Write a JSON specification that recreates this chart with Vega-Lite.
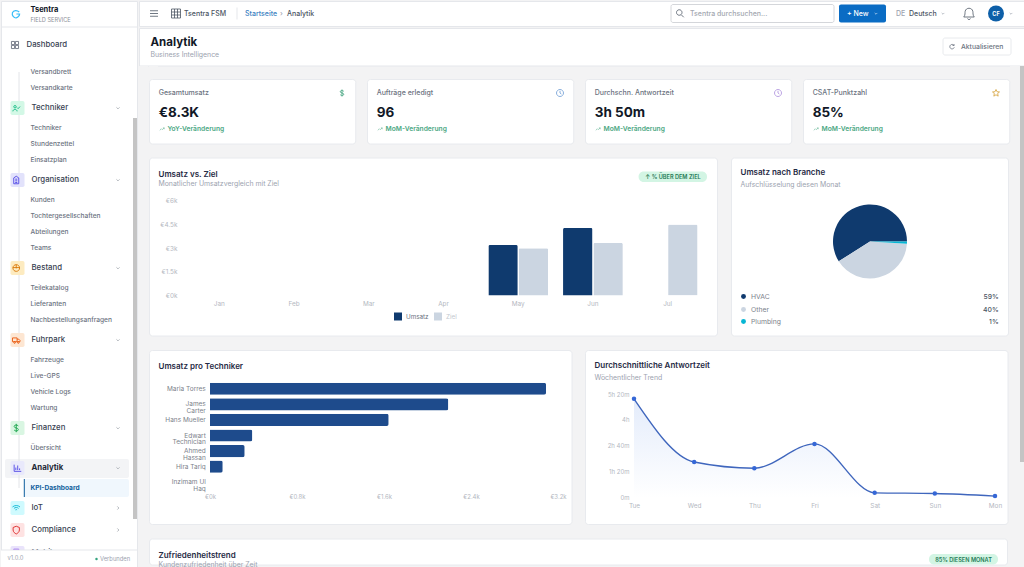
{
  "$schema": "https://vega.github.io/schema/vega-lite/v6.json",
  "background": "#f3f3f4",
  "padding": 0,
  "spacing": 0,
  "config": {
    "font": "Inter",
    "view": {"fill": "#ffffff", "stroke": "#e8eaee", "cornerRadius": 3},
    "text": {"baseline": "middle"},
    "axis": {"grid": false, "domain": false, "ticks": false, "tickSize": 0, "title": null, "labelColor": "#b4b8bf", "labelFontSize": 6.4, "labelAngle": 0, "labelFlush": false},
    "title": {"anchor": "start", "frame": "group", "dx": 9.5, "offset": -30, "fontSize": 8, "fontWeight": 600, "color": "#1f2a44", "subtitleFontSize": 6.9, "subtitleColor": "#9ca3af", "subtitlePadding": 3}
  },
  "resolve": {"scale": {"color": "independent", "shape": "independent", "size": "independent"}},
  "hconcat": [
    {
      "width": 136,
      "height": 566,
      "view": {"cornerRadius": 0, "stroke": "#e5e7eb"},
      "resolve": {"scale": {"x": "independent", "y": "independent", "color": "independent", "shape": "independent"}},
      "layer": [
        {
          "data": {"values": [{"part": "open row"}]},
          "mark": {"type": "rect", "color": "#f3f4f6", "cornerRadius": 2},
          "encoding": {
            "x": {"datum": 1, "type": "quantitative", "scale": {"domain": [1, 2], "range": [4, 128]}, "axis": null}, "x2": {"datum": 2},
            "y": {"datum": 1, "type": "quantitative", "scale": {"domain": [1, 2], "range": [458, 477]}, "axis": null}, "y2": {"datum": 2}
          }
        },
        {
          "data": {"values": [{"part": "active row"}]},
          "mark": {"type": "rect", "color": "#f0f7fd", "cornerRadius": 2},
          "encoding": {
            "x": {"datum": 1, "type": "quantitative", "scale": {"domain": [1, 2], "range": [23, 128]}, "axis": null}, "x2": {"datum": 2},
            "y": {"datum": 1, "type": "quantitative", "scale": {"domain": [1, 2], "range": [478, 496]}, "axis": null}, "y2": {"datum": 2}
          }
        },
        {
          "data": {"values": [
            {"label": "Dashboard", "kind": "top"},
            {"label": "Versandbrett", "kind": "sub"},
            {"label": "Versandkarte", "kind": "sub"},
            {"label": "Techniker", "kind": "group", "chev": "down"},
            {"label": "Techniker", "kind": "sub"},
            {"label": "Stundenzettel", "kind": "sub"},
            {"label": "Einsatzplan", "kind": "sub"},
            {"label": "Organisation", "kind": "group", "chev": "down"},
            {"label": "Kunden", "kind": "sub"},
            {"label": "Tochtergesellschaften", "kind": "sub"},
            {"label": "Abteilungen", "kind": "sub"},
            {"label": "Teams", "kind": "sub"},
            {"label": "Bestand", "kind": "group", "chev": "down"},
            {"label": "Teilekatalog", "kind": "sub"},
            {"label": "Lieferanten", "kind": "sub"},
            {"label": "Nachbestellungsanfragen", "kind": "sub"},
            {"label": "Fuhrpark", "kind": "group", "chev": "down"},
            {"label": "Fahrzeuge", "kind": "sub"},
            {"label": "Live-GPS", "kind": "sub"},
            {"label": "Vehicle Logs", "kind": "sub"},
            {"label": "Wartung", "kind": "sub"},
            {"label": "Finanzen", "kind": "group", "chev": "down"},
            {"label": "Übersicht", "kind": "sub"},
            {"label": "Analytik", "kind": "open", "chev": "down"},
            {"label": "KPI-Dashboard", "kind": "active"},
            {"label": "IoT", "kind": "group", "chev": "right"},
            {"label": "Compliance", "kind": "group", "chev": "right"},
            {"label": "Mobile", "kind": "group"}
          ]},
          "transform": [{"window": [{"op": "row_number", "as": "row"}]}],
          "encoding": {
            "y": {"field": "row", "type": "quantitative", "axis": null, "scale": {
              "domain": [1,2,3,4,5,6,7,8,9,10,11,12,13,14,15,16,17,18,19,20,21,22,23,24,25,26,27,28],
              "range": [44,71,87,107,127,143,159,179,199,215,231,247,267,287,303,319,339,359,375,391,407,427,447,467,487,507,529,552]
            }}
          },
          "resolve": {"scale": {"x": "independent", "y": "independent", "color": "independent", "shape": "independent"}},
          "layer": [
            {
              "transform": [{"filter": "datum.label == 'Versandbrett' || datum.label == 'KPI-Dashboard'"}],
              "mark": {"type": "line", "color": "#e2e4e8", "strokeWidth": 1},
              "encoding": {"x": {"datum": 0, "type": "quantitative", "scale": {"domain": [0, 1], "range": [18, 19]}, "axis": null}}
            },
            {
              "transform": [{"filter": "datum.kind == 'group' || datum.kind == 'open'"}],
              "mark": {"type": "point", "filled": true, "opacity": 1, "size": 196, "shape": "M-.75,-1H.75Q1,-1 1,-.75V.75Q1,1 .75,1H-.75Q-1,1 -1,.75V-.75Q-1,-1 -.75,-1Z"},
              "encoding": {
                "x": {"datum": 0, "type": "quantitative", "scale": {"domain": [0, 1], "range": [16.5, 17.5]}, "axis": null},
                "color": {"field": "label", "type": "nominal", "legend": null, "scale": {
                  "domain": ["Techniker", "Organisation", "Bestand", "Fuhrpark", "Finanzen", "Analytik", "IoT", "Compliance", "Mobile"],
                  "range": ["#d3f8e6", "#e2e2fb", "#fdebc0", "#fde6d2", "#d9f6e2", "#e9e9fb", "#cffafe", "#fee2e2", "#e9e3fb"]
                }}
              }
            },
            {
              "transform": [{"filter": "datum.kind == 'group' || datum.kind == 'open' || datum.kind == 'top'"}],
              "mark": {"type": "point", "filled": false, "opacity": 1, "size": 70, "strokeWidth": 0.9},
              "encoding": {
                "x": {"field": "kind", "type": "nominal", "axis": null, "scale": {"type": "point", "domain": ["top", "group", "open"], "range": [14, 16.5], "padding": 0}},
                "shape": {"field": "label", "type": "nominal", "legend": null, "scale": {
                  "domain": ["Dashboard", "Techniker", "Organisation", "Bestand", "Fuhrpark", "Finanzen", "Analytik", "IoT", "Compliance", "Mobile"],
                  "range": [
                    "M-.85,-.85H-.1V-.1H-.85ZM.1,-.85H.85V-.1H.1ZM-.85,.1H-.1V.85H-.85ZM.1,.1H.85V.85H.1Z",
                    "M-.6,-.3a.3,.3 0 1,0 .6,0a.3,.3 0 1,0 -.6,0M-.8,.8C-.8,.2 .2,.2 .2,.8M.2,-.1L.45,.15L.9,-.35",
                    "M-.6,.9V-.5L0,-.9L.6,-.5V.9ZM-.25,-.2H.25M-.25,.2H.25M-.25,.6H.25",
                    "M-.8,0a.8,.8 0 1,0 1.6,0a.8,.8 0 1,0 -1.6,0M-.8,-.1H.8M0,-.8V.1",
                    "M-.9,-.5H.2V.4H-.9ZM.2,-.2H.6L.9,.1V.4H.2M-.6,.6a.2,.2 0 1,0 .4,0a.2,.2 0 1,0 -.4,0M.3,.6a.2,.2 0 1,0 .4,0a.2,.2 0 1,0 -.4,0",
                    "M.5,-.5C.2,-.8 -.5,-.8 -.5,-.35C-.5,.1 .5,-.1 .5,.35C.5,.8 -.2,.8 -.5,.5M0,-1V1",
                    "M-.8,-.8V.8H.9M-.4,.5V-.1M.05,.5V-.6M.5,.5V.1",
                    "M-.9,-.25C-.4,-.7 .4,-.7 .9,-.25M-.55,.1C-.25,-.2 .25,-.2 .55,.1M-.2,.45C-.1,.35 .1,.35 .2,.45",
                    "M0,-.9L.75,-.6V0C.75,.5 .3,.8 0,.95C-.3,.8 -.75,.5 -.75,0V-.6Z",
                    "M-.6,-.9H.6V.9H-.6Z"
                  ]
                }},
                "color": {"field": "label", "type": "nominal", "legend": null, "scale": {
                  "domain": ["Dashboard", "Techniker", "Organisation", "Bestand", "Fuhrpark", "Finanzen", "Analytik", "IoT", "Compliance", "Mobile"],
                  "range": ["#6b7280", "#10b981", "#4f46e5", "#d97706", "#ea580c", "#16a34a", "#4f46e5", "#06b6d4", "#dc2626", "#7c3aed"]
                }}
              }
            },
            {
              "transform": [{"filter": "datum.kind == 'top'"}],
              "mark": {"type": "text", "align": "left", "fontSize": 7.8, "fontWeight": 500, "color": "#374151"},
              "encoding": {"text": {"field": "label"}, "x": {"datum": 0, "type": "quantitative", "scale": {"domain": [0, 1], "range": [25.5, 26.5]}, "axis": null}}
            },
            {
              "transform": [{"filter": "datum.kind == 'group'"}],
              "mark": {"type": "text", "align": "left", "fontSize": 7.8, "fontWeight": 500, "color": "#374151"},
              "encoding": {"text": {"field": "label"}, "x": {"datum": 0, "type": "quantitative", "scale": {"domain": [0, 1], "range": [30.5, 31.5]}, "axis": null}}
            },
            {
              "transform": [{"filter": "datum.kind == 'open'"}],
              "mark": {"type": "text", "align": "left", "fontSize": 7.8, "fontWeight": 700, "color": "#1f2937"},
              "encoding": {"text": {"field": "label"}, "x": {"datum": 0, "type": "quantitative", "scale": {"domain": [0, 1], "range": [30.5, 31.5]}, "axis": null}}
            },
            {
              "transform": [{"filter": "datum.kind == 'sub'"}],
              "mark": {"type": "text", "align": "left", "fontSize": 6.6, "fontWeight": 500, "color": "#6b7280"},
              "encoding": {"text": {"field": "label"}, "x": {"datum": 0, "type": "quantitative", "scale": {"domain": [0, 1], "range": [29.5, 30.5]}, "axis": null}}
            },
            {
              "transform": [{"filter": "datum.kind == 'active'"}],
              "mark": {"type": "text", "align": "left", "fontSize": 6.6, "fontWeight": 700, "color": "#0f5e9c"},
              "encoding": {"text": {"field": "label"}, "x": {"datum": 0, "type": "quantitative", "scale": {"domain": [0, 1], "range": [29.5, 30.5]}, "axis": null}}
            },
            {
              "transform": [{"filter": "datum.chev"}],
              "mark": {"type": "point", "filled": false, "opacity": 1, "size": 20, "strokeWidth": 0.8, "color": "#a3a8b0"},
              "encoding": {
                "x": {"datum": 0, "type": "quantitative", "scale": {"domain": [0, 1], "range": [117, 118]}, "axis": null},
                "shape": {"field": "chev", "type": "nominal", "legend": null, "scale": {"domain": ["down", "right"], "range": ["M-.7,-.3L0,.4L.7,-.3", "M-.3,-.7L.4,0L-.3,.7"]}}
              }
            }
          ]
        },
        {
          "data": {"values": [{"part": "active accent"}]},
          "mark": {"type": "rect", "color": "#0f5e9c"},
          "encoding": {
            "x": {"datum": 1, "type": "quantitative", "scale": {"domain": [1, 2], "range": [22.8, 23.8]}, "axis": null}, "x2": {"datum": 2},
            "y": {"datum": 1, "type": "quantitative", "scale": {"domain": [1, 2], "range": [478, 496]}, "axis": null}, "y2": {"datum": 2}
          }
        },
        {
          "data": {"values": [{"part": "footer"}]},
          "mark": {"type": "rect", "color": "#ffffff"},
          "encoding": {
            "x": {"datum": 1, "type": "quantitative", "scale": {"domain": [1, 2], "range": [0, 136]}, "axis": null}, "x2": {"datum": 2},
            "y": {"datum": 1, "type": "quantitative", "scale": {"domain": [1, 2], "range": [549, 566]}, "axis": null}, "y2": {"datum": 2}
          }
        },
        {
          "data": {"values": [{"part": "header line"}, {"part": "footer line"}]},
          "mark": {"type": "rule", "color": "#e5e7eb", "strokeWidth": 1},
          "encoding": {
            "x": {"datum": 1, "type": "quantitative", "scale": {"domain": [1, 2], "range": [0, 136]}, "axis": null}, "x2": {"datum": 2},
            "y": {"field": "part", "type": "nominal", "axis": null, "scale": {"type": "point", "domain": ["header line", "footer line"], "range": [26, 549], "padding": 0}}
          }
        },
        {
          "data": {"values": [{"part": "scrollbar"}]},
          "mark": {"type": "rect", "color": "#c4c4c4"},
          "encoding": {
            "x": {"datum": 1, "type": "quantitative", "scale": {"domain": [1, 2], "range": [132, 136]}, "axis": null}, "x2": {"datum": 2},
            "y": {"datum": 1, "type": "quantitative", "scale": {"domain": [1, 2], "range": [117, 518]}, "axis": null}, "y2": {"datum": 2}
          }
        },
        {
          "data": {"values": [{"t": "Tsentra"}]},
          "mark": {"type": "text", "align": "left", "fontSize": 7.5, "fontWeight": 700, "color": "#111827"},
          "encoding": {
            "text": {"field": "t"},
            "x": {"datum": 0, "type": "quantitative", "scale": {"domain": [0, 1], "range": [29.5, 30.5]}, "axis": null},
            "y": {"datum": 0, "type": "quantitative", "scale": {"domain": [0, 1], "range": [9, 10]}, "axis": null}
          }
        },
        {
          "data": {"values": [{"t": "FIELD SERVICE"}]},
          "mark": {"type": "text", "align": "left", "fontSize": 5.6, "color": "#8b9098", "letterSpacing": 0.6},
          "encoding": {
            "text": {"field": "t"},
            "x": {"datum": 0, "type": "quantitative", "scale": {"domain": [0, 1], "range": [29.5, 30.5]}, "axis": null},
            "y": {"datum": 0, "type": "quantitative", "scale": {"domain": [0, 1], "range": [18.5, 19.5]}, "axis": null}
          }
        },
        {
          "data": {"values": [{"t": "logo"}]},
          "mark": {"type": "point", "filled": false, "opacity": 1, "size": 64, "strokeWidth": 1.2, "color": "#38bdf8", "shape": "M.8,-.5C.3,-1 -.6,-1 -.9,-.3C-1.1,.4 -.5,1 0,1C.5,.8 .9,.3 .9,0H.1"},
          "encoding": {
            "x": {"datum": 0, "type": "quantitative", "scale": {"domain": [0, 1], "range": [15, 16]}, "axis": null},
            "y": {"datum": 0, "type": "quantitative", "scale": {"domain": [0, 1], "range": [13, 14]}, "axis": null}
          }
        },
        {
          "data": {"values": [{"t": "v1.0.0"}]},
          "mark": {"type": "text", "align": "left", "fontSize": 5.8, "color": "#9ca3af"},
          "encoding": {
            "text": {"field": "t"},
            "x": {"datum": 0, "type": "quantitative", "scale": {"domain": [0, 1], "range": [6.5, 7.5]}, "axis": null},
            "y": {"datum": 0, "type": "quantitative", "scale": {"domain": [0, 1], "range": [557, 558]}, "axis": null}
          }
        },
        {
          "data": {"values": [{"t": "Verbunden"}]},
          "mark": {"type": "text", "align": "left", "fontSize": 5.8, "color": "#9ca3af"},
          "encoding": {
            "text": {"field": "t"},
            "x": {"datum": 0, "type": "quantitative", "scale": {"domain": [0, 1], "range": [99, 100]}, "axis": null},
            "y": {"datum": 0, "type": "quantitative", "scale": {"domain": [0, 1], "range": [557.5, 558.5]}, "axis": null}
          }
        },
        {
          "data": {"values": [{"t": "connected"}]},
          "mark": {"type": "point", "filled": true, "opacity": 1, "size": 6, "color": "#34a37f"},
          "encoding": {
            "x": {"datum": 0, "type": "quantitative", "scale": {"domain": [0, 1], "range": [95.5, 96.5]}, "axis": null},
            "y": {"datum": 0, "type": "quantitative", "scale": {"domain": [0, 1], "range": [558, 559]}, "axis": null}
          }
        }
      ]
    },
    {
      "spacing": 0,
      "resolve": {"scale": {"color": "independent", "shape": "independent", "size": "independent"}},
      "vconcat": [
        {
          "width": 886,
          "height": 25,
          "view": {"cornerRadius": 0, "stroke": "#e5e7eb"},
          "resolve": {"scale": {"x": "independent", "y": "independent", "color": "independent", "shape": "independent"}},
          "layer": [
            {
              "data": {"values": [{"part": "search"}]},
              "mark": {"type": "rect", "fill": "#ffffff", "stroke": "#c9ccd1", "strokeWidth": 0.8, "cornerRadius": 2},
              "encoding": {
                "x": {"datum": 1, "type": "quantitative", "scale": {"domain": [1, 2], "range": [532, 695]}, "axis": null}, "x2": {"datum": 2},
                "y": {"datum": 1, "type": "quantitative", "scale": {"domain": [1, 2], "range": [3.5, 21.5]}, "axis": null}, "y2": {"datum": 2}
              }
            },
            {
              "data": {"values": [{"part": "new"}]},
              "mark": {"type": "rect", "color": "#0a6cc4", "cornerRadius": 2},
              "encoding": {
                "x": {"datum": 1, "type": "quantitative", "scale": {"domain": [1, 2], "range": [700, 747]}, "axis": null}, "x2": {"datum": 2},
                "y": {"datum": 1, "type": "quantitative", "scale": {"domain": [1, 2], "range": [3.5, 21.5]}, "axis": null}, "y2": {"datum": 2}
              }
            },
            {
              "data": {"values": [{"part": "divider"}]},
              "mark": {"type": "rule", "color": "#e5e7eb"},
              "encoding": {
                "x": {"datum": 0, "type": "quantitative", "scale": {"domain": [0, 1], "range": [98, 99]}, "axis": null},
                "y": {"datum": 1, "type": "quantitative", "scale": {"domain": [1, 2], "range": [6.5, 18.5]}, "axis": null}, "y2": {"datum": 2}
              }
            },
            {
              "data": {"values": [{"part": "avatar"}]},
              "mark": {"type": "point", "shape": "circle", "filled": true, "opacity": 1, "size": 256, "color": "#0d5fa8"},
              "encoding": {
                "x": {"datum": 0, "type": "quantitative", "scale": {"domain": [0, 1], "range": [857, 858]}, "axis": null}
              }
            },
            {
              "data": {"values": [{"t": "CF"}]},
              "mark": {"type": "text", "fontSize": 5.5, "fontWeight": 700, "color": "#ffffff"},
              "encoding": {
                "text": {"field": "t"},
                "x": {"datum": 0, "type": "quantitative", "scale": {"domain": [0, 1], "range": [857, 858]}, "axis": null}
              }
            },
            {
              "data": {"values": [{"icon": "menu"}, {"icon": "grid"}, {"icon": "search"}, {"icon": "bell"}]},
              "transform": [{"window": [{"op": "row_number", "as": "row"}]}],
              "mark": {"type": "point", "filled": false, "opacity": 1, "strokeWidth": 0.8, "size": 100, "color": "#4b5563"},
              "encoding": {
                "x": {"field": "row", "type": "quantitative", "axis": null, "scale": {"domain": [1, 2, 3, 4], "range": [15, 37, 541, 830]}},
                "shape": {"field": "icon", "type": "nominal", "legend": null, "scale": {"domain": ["menu", "grid", "search", "bell"], "range": [
                  "M-.8,-.55H.8M-.8,0H.8M-.8,.55H.8",
                  "M-.9,-.9H.9V.9H-.9ZM-.9,-.3H.9M-.9,.3H.9M-.3,-.9V.9M.3,-.9V.9",
                  "M-.7,-.2a.55,.55 0 1,0 1.1,0a.55,.55 0 1,0 -1.1,0M.25,.25L.75,.75",
                  "M-1.05,.7C-.7,.28 -.84,-.14 -.77,-.42C-.63,-1.26 .63,-1.26 .77,-.42C.84,-.14 .7,.28 1.05,.7ZM-.28,.98C-.14,1.33 .14,1.33 .28,.98"
                ]}}
              }
            },
            {
              "data": {"values": [{"at": "new"}, {"at": "language"}, {"at": "profile"}]},
              "transform": [{"window": [{"op": "row_number", "as": "row"}]}],
              "mark": {"type": "point", "filled": false, "opacity": 1, "size": 14, "strokeWidth": 0.7, "shape": "M-.7,-.3L0,.4L.7,-.3"},
              "encoding": {
                "x": {"field": "row", "type": "quantitative", "axis": null, "scale": {"domain": [1, 2, 3], "range": [737, 804, 872]}},
                "color": {"field": "at", "type": "nominal", "legend": null, "scale": {"domain": ["new", "language", "profile"], "range": ["#cfe3f7", "#9ca3af", "#9ca3af"]}}
              }
            },
            {
              "data": {"values": [
                {"t": "Tsentra FSM", "kind": "plain"},
                {"t": "Startseite", "kind": "link"},
                {"t": "›", "kind": "muted"},
                {"t": "Analytik", "kind": "plain"},
                {"t": "Tsentra durchsuchen...", "kind": "placeholder"},
                {"t": "+ New", "kind": "white"},
                {"t": "DE", "kind": "muted"},
                {"t": "Deutsch", "kind": "strong"}
              ]},
              "transform": [{"window": [{"op": "row_number", "as": "row"}]}],
              "mark": {"type": "text", "align": "left", "fontSize": 7, "fontWeight": 500},
              "encoding": {
                "text": {"field": "t"},
                "x": {"field": "row", "type": "quantitative", "axis": null, "scale": {"domain": [1, 2, 3, 4, 5, 6, 7, 8], "range": [45, 106, 141, 148, 551, 708, 757, 770]}},
                "color": {"field": "kind", "type": "nominal", "legend": null, "scale": {"domain": ["plain", "link", "muted", "placeholder", "white", "strong"], "range": ["#4b5563", "#3a7fc1", "#9ca3af", "#a3a8b0", "#ffffff", "#4b5563"]}}
              }
            }
          ]
        },
        {
          "width": 886,
          "height": 37.5,
          "view": {"cornerRadius": 0, "stroke": "#e5e7eb"},
          "title": {"text": "Analytik", "subtitle": "Business Intelligence", "fontSize": 11.5, "fontWeight": 700, "color": "#111827", "dx": 11.5, "offset": -29.5, "subtitlePadding": 3},
          "resolve": {"scale": {"x": "independent", "y": "independent"}},
          "layer": [
            {
              "data": {"values": [{"part": "button"}]},
              "mark": {"type": "rect", "fill": "#ffffff", "stroke": "#e2e4e8", "strokeWidth": 0.8, "cornerRadius": 2},
              "encoding": {
                "x": {"datum": 1, "type": "quantitative", "scale": {"domain": [1, 2], "range": [804, 872]}, "axis": null}, "x2": {"datum": 2},
                "y": {"datum": 1, "type": "quantitative", "scale": {"domain": [1, 2], "range": [10, 27]}, "axis": null}, "y2": {"datum": 2}
              }
            },
            {
              "data": {"values": [{"part": "refresh"}]},
              "mark": {"type": "point", "filled": false, "opacity": 1, "size": 25, "strokeWidth": 0.8, "color": "#6b7280", "shape": "M.8,-.4A.9,.9 0 1,0 .9,.3M.8,-1V-.4H.2"},
              "encoding": {
                "x": {"datum": 0, "type": "quantitative", "scale": {"domain": [0, 1], "range": [813, 814]}, "axis": null},
                "y": {"datum": 0, "type": "quantitative", "scale": {"domain": [0, 1], "range": [18.5, 19.5]}, "axis": null}
              }
            },
            {
              "data": {"values": [{"t": "Aktualisieren"}]},
              "mark": {"type": "text", "align": "left", "fontSize": 6.8, "fontWeight": 500, "color": "#6b7280"},
              "encoding": {
                "text": {"field": "t"},
                "x": {"datum": 0, "type": "quantitative", "scale": {"domain": [0, 1], "range": [822, 823]}, "axis": null},
                "y": {"datum": 0, "type": "quantitative", "scale": {"domain": [0, 1], "range": [18.5, 19.5]}, "axis": null}
              }
            }
          ]
        },
        {
          "spacing": 0,
          "resolve": {"scale": {"color": "independent", "shape": "independent"}},
          "hconcat": [
            {"data": {"values": []}, "mark": "rect", "width": 9, "height": 12, "view": {"fill": "#f3f3f4", "stroke": null, "cornerRadius": 0}},
            {
              "spacing": 12.5,
              "resolve": {"scale": {"color": "independent", "shape": "independent"}},
              "vconcat": [
                {
                  "spacing": 0,
                  "resolve": {"scale": {"color": "independent", "shape": "independent"}},
                  "vconcat": [
                    {"data": {"values": []}, "mark": "rect", "width": 9, "height": 12, "view": {"fill": "#f3f3f4", "stroke": null, "cornerRadius": 0}},
                    {
                      "data": {"values": [
                        {"role": "label", "revenue": "Gesamtumsatz", "jobs": "Aufträge erledigt", "response": "Durchschn. Antwortzeit", "csat": "CSAT-Punktzahl"},
                        {"role": "value", "revenue": "€8.3K", "jobs": "96", "response": "3h 50m", "csat": "85%"},
                        {"role": "delta", "revenue": "YoY-Veränderung", "jobs": "MoM-Veränderung", "response": "MoM-Veränderung", "csat": "MoM-Veränderung"},
                        {"role": "icon", "revenue": "dollar", "jobs": "clock", "response": "timer", "csat": "star"}
                      ]},
                      "repeat": ["revenue", "jobs", "response", "csat"],
                      "columns": 4,
                      "spacing": 10,
                      "spec": {
                        "width": 206.25,
                        "height": 64.5,
                        "layer": [
                          {
                            "transform": [{"filter": "datum.role == 'label'"}],
                            "mark": {"type": "text", "align": "left", "fontSize": 7, "fontWeight": 500, "color": "#6b7280"},
                            "encoding": {
                              "text": {"field": {"repeat": "repeat"}},
                              "x": {"datum": 0, "type": "quantitative", "axis": null, "scale": {"domain": [0, 1, 2, 3], "range": [9.7, 13, 18.5, 193]}},
                              "y": {"datum": 1, "type": "quantitative", "axis": null, "scale": {"domain": [1, 2, 3], "range": [14, 34, 50]}}
                            }
                          },
                          {
                            "transform": [{"filter": "datum.role == 'value'"}],
                            "mark": {"type": "text", "align": "left", "fontSize": 13.5, "fontWeight": 700, "color": "#111827"},
                            "encoding": {
                              "text": {"field": {"repeat": "repeat"}},
                              "x": {"datum": 0, "type": "quantitative", "axis": null, "scale": {"domain": [0, 1, 2, 3], "range": [9.7, 13, 18.5, 193]}},
                              "y": {"datum": 2, "type": "quantitative", "axis": null, "scale": {"domain": [1, 2, 3], "range": [14, 34, 50]}}
                            }
                          },
                          {
                            "transform": [{"filter": "datum.role == 'delta'"}],
                            "mark": {"type": "text", "align": "left", "fontSize": 6.7, "fontWeight": 600, "color": "#4ba783"},
                            "encoding": {
                              "text": {"field": {"repeat": "repeat"}},
                              "x": {"datum": 2, "type": "quantitative", "axis": null, "scale": {"domain": [0, 1, 2, 3], "range": [9.7, 13, 18.5, 193]}},
                              "y": {"datum": 3, "type": "quantitative", "axis": null, "scale": {"domain": [1, 2, 3], "range": [14, 34, 50]}}
                            }
                          },
                          {
                            "transform": [{"filter": "datum.role == 'delta'"}],
                            "mark": {"type": "point", "filled": false, "opacity": 1, "size": 20, "strokeWidth": 0.7, "color": "#7cc2a6", "shape": "M-1,.6L-.3,-.1L.1,.3L1,-.5M.4,-.5H1V.1"},
                            "encoding": {
                              "x": {"datum": 1, "type": "quantitative", "axis": null, "scale": {"domain": [0, 1, 2, 3], "range": [9.7, 13, 18.5, 193]}},
                              "y": {"datum": 3, "type": "quantitative", "axis": null, "scale": {"domain": [1, 2, 3], "range": [14, 34, 50]}}
                            }
                          },
                          {
                            "transform": [{"filter": "datum.role == 'icon'"}],
                            "mark": {"type": "point", "filled": false, "opacity": 1, "size": 49, "strokeWidth": 0.9},
                            "encoding": {
                              "x": {"datum": 3, "type": "quantitative", "axis": null, "scale": {"domain": [0, 1, 2, 3], "range": [9.7, 13, 18.5, 193]}},
                              "y": {"datum": 1, "type": "quantitative", "axis": null, "scale": {"domain": [1, 2, 3], "range": [14, 34, 50]}},
                              "shape": {"field": {"repeat": "repeat"}, "type": "nominal", "legend": null, "scale": {
                                "domain": ["dollar", "clock", "timer", "star"],
                                "range": [
                                  "M.5,-.5C.2,-.8 -.5,-.8 -.5,-.35C-.5,.1 .5,-.1 .5,.35C.5,.8 -.2,.8 -.5,.5M0,-1V1",
                                  "M-1,0a1,1 0 1,0 2,0a1,1 0 1,0 -2,0M0,-.6V0L.4,.3",
                                  "M-1,0a1,1 0 1,0 2,0a1,1 0 1,0 -2,0M0,-.6V0L.4,.3",
                                  "M0,-1L.3,-.35L1,-.3L.47,.15L.62,.9L0,.5L-.62,.9L-.47,.15L-1,-.3L-.3,-.35Z"
                                ]
                              }},
                              "color": {"field": {"repeat": "repeat"}, "type": "nominal", "legend": null, "scale": {
                                "domain": ["dollar", "clock", "timer", "star"],
                                "range": ["#4ba783", "#7aa5d8", "#b49ae0", "#d9a94a"]
                              }}
                            }
                          }
                        ]
                      }
                    }
                  ]
                },
                {
                  "spacing": 12,
                  "resolve": {"scale": {"color": "independent"}},
                  "hconcat": [
                    {
                      "width": 568,
                      "height": 178,
                      "title": {"text": "Umsatz vs. Ziel", "subtitle": "Monatlicher Umsatzvergleich mit Ziel", "subtitlePadding": 2, "offset": -29},
                      "resolve": {"scale": {"x": "independent", "y": "independent"}},
                      "layer": [
                        {
                          "data": {"values": [
                            {"month": "May", "series": "Umsatz", "euro": 3190},
                            {"month": "May", "series": "Ziel", "euro": 2990},
                            {"month": "Jun", "series": "Umsatz", "euro": 4260},
                            {"month": "Jun", "series": "Ziel", "euro": 3315},
                            {"month": "Jul", "series": "Umsatz", "euro": 0},
                            {"month": "Jul", "series": "Ziel", "euro": 4480}
                          ]},
                          "mark": {"type": "bar", "cornerRadiusEnd": 1.5},
                          "encoding": {
                            "x": {"field": "month", "type": "ordinal", "scale": {"domain": ["Jan", "Feb", "Mar", "Apr", "May", "Jun", "Jul"], "range": [33, 556], "paddingInner": 0.2, "paddingOuter": 0.1}, "axis": {"offset": -40, "labelPadding": 5}},
                            "xOffset": {"field": "series", "scale": {"domain": ["Umsatz", "Ziel"], "paddingInner": 0.03}},
                            "y": {"field": "euro", "type": "quantitative", "scale": {"domain": [0, 6000], "range": [138, 43]}, "axis": {"offset": -28, "labelPadding": 0, "values": [0, 1500, 3000, 4500, 6000], "labelExpr": "'€' + datum.value / 1000 + 'k'"}},
                            "color": {"field": "series", "type": "nominal", "scale": {"domain": ["Umsatz", "Ziel"], "range": ["#0f3a6e", "#cbd5e1"]}, "legend": {
                              "orient": "none", "legendX": 244, "legendY": 154, "direction": "horizontal", "title": null, "symbolType": "square", "symbolSize": 64, "labelFontSize": 6.3, "labelOffset": 3, "columnPadding": 4, "labelColor": "#6b7280",
                              "encode": {"labels": {"update": {"fill": {"signal": "datum.label == 'Ziel' ? '#c4c8cf' : '#6b7280'"}}}}
                            }}
                          }
                        },
                        {
                          "data": {"values": [{"part": "badge"}]},
                          "mark": {"type": "rect", "color": "#d3f5e4", "cornerRadius": 5},
                          "encoding": {
                            "x": {"datum": 1, "type": "quantitative", "scale": {"domain": [1, 2], "range": [489.6, 558]}, "axis": null}, "x2": {"datum": 2},
                            "y": {"datum": 1, "type": "quantitative", "scale": {"domain": [1, 2], "range": [14, 24.5]}, "axis": null}, "y2": {"datum": 2}
                          }
                        },
                        {
                          "data": {"values": [{"t": "↑ % ÜBER DEM ZIEL"}]},
                          "mark": {"type": "text", "fontSize": 5.6, "fontWeight": 600, "color": "#1f7a55"},
                          "encoding": {
                            "text": {"field": "t"},
                            "x": {"datum": 0, "type": "quantitative", "scale": {"domain": [0, 1], "range": [524, 525]}, "axis": null},
                            "y": {"datum": 0, "type": "quantitative", "scale": {"domain": [0, 1], "range": [19.3, 20.3]}, "axis": null}
                          }
                        }
                      ]
                    },
                    {
                      "width": 277,
                      "height": 178,
                      "title": {"text": "Umsatz nach Branche", "subtitle": "Aufschlüsselung diesen Monat", "subtitlePadding": 4.5},
                      "data": {"values": [
                        {"branche": "HVAC", "share": 59},
                        {"branche": "Other", "share": 40},
                        {"branche": "Plumbing", "share": 1}
                      ]},
                      "transform": [{"window": [{"op": "row_number", "as": "row"}]}],
                      "resolve": {"scale": {"x": "independent", "y": "independent", "color": "independent"}},
                      "layer": [
                        {
                          "mark": {"type": "arc", "outerRadius": 37},
                          "encoding": {
                            "x": {"datum": "c", "type": "nominal", "axis": null, "scale": {"type": "point", "domain": ["c"], "range": [139, 139]}},
                            "y": {"datum": "c", "type": "nominal", "axis": null, "scale": {"type": "point", "domain": ["c"], "range": [84, 84]}},
                            "theta": {"field": "share", "type": "quantitative", "stack": true, "scale": {"domain": [0, 100], "range": [1.5708, -4.7124]}},
                            "order": {"field": "share", "sort": "descending"},
                            "color": {"field": "branche", "type": "nominal", "legend": null, "scale": {"domain": ["HVAC", "Other", "Plumbing"], "range": ["#0f3a6e", "#cbd5e1", "#06b6d4"]}}
                          }
                        },
                        {
                          "mark": {"type": "point", "shape": "circle", "filled": true, "opacity": 1, "size": 24},
                          "encoding": {
                            "x": {"datum": 0, "type": "quantitative", "scale": {"domain": [0, 1], "range": [12.5, 13.5]}, "axis": null},
                            "y": {"field": "row", "type": "quantitative", "axis": null, "scale": {"domain": [1, 2, 3], "range": [139, 152, 164]}},
                            "color": {"field": "branche", "type": "nominal", "legend": null, "scale": {"domain": ["HVAC", "Other", "Plumbing"], "range": ["#0f3a6e", "#cbd5e1", "#06b6d4"]}}
                          }
                        },
                        {
                          "mark": {"type": "text", "align": "left", "fontSize": 6.8, "color": "#7b818a"},
                          "encoding": {
                            "text": {"field": "branche"},
                            "x": {"datum": 0, "type": "quantitative", "scale": {"domain": [0, 1], "range": [20, 21]}, "axis": null},
                            "y": {"field": "row", "type": "quantitative", "axis": null, "scale": {"domain": [1, 2, 3], "range": [139, 152, 164]}}
                          }
                        },
                        {
                          "transform": [{"calculate": "datum.share + '%'", "as": "pct"}],
                          "mark": {"type": "text", "align": "right", "fontSize": 6.8, "fontWeight": 500, "color": "#4b5563"},
                          "encoding": {
                            "text": {"field": "pct"},
                            "x": {"datum": 0, "type": "quantitative", "scale": {"domain": [0, 1], "range": [267.7, 268.7]}, "axis": null},
                            "y": {"field": "row", "type": "quantitative", "axis": null, "scale": {"domain": [1, 2, 3], "range": [139, 152, 164]}}
                          }
                        }
                      ]
                    }
                  ]
                },
                {
                  "spacing": 12,
                  "hconcat": [
                    {
                      "width": 422.5,
                      "height": 174,
                      "title": {"text": "Umsatz pro Techniker", "offset": -21},
                      "data": {"values": [
                        {"name": "Maria Torres", "euro": 3090},
                        {"name": "James Carter", "euro": 2191},
                        {"name": "Hans Mueller", "euro": 1643},
                        {"name": "Edwart Technician", "euro": 389},
                        {"name": "Ahmed Hassan", "euro": 319},
                        {"name": "Hira Tariq", "euro": 117},
                        {"name": "Inzimam Ul Haq", "euro": 0}
                      ]},
                      "mark": {"type": "bar", "color": "#1e4b8c", "cornerRadiusEnd": 2},
                      "encoding": {
                        "x": {"field": "euro", "type": "quantitative", "scale": {"domain": [0, 3200], "range": [61, 409]}, "axis": {"offset": -35, "labelPadding": 4, "values": [0, 800, 1600, 2400, 3200], "labelExpr": "'€' + datum.value / 1000 + 'k'", "labelFontSize": 6}},
                        "y": {"field": "name", "type": "nominal", "sort": null, "scale": {"range": [31, 140], "paddingInner": 0.22, "paddingOuter": 0.11}, "axis": {"offset": -56.3, "labelPadding": 0, "labelColor": "#7b818a", "labelFontSize": 6.5, "labelLineHeight": 6.6, "labelLimit": 60,
                          "labelExpr": "indexof(['Maria Torres', 'Hans Mueller', 'Hira Tariq'], datum.label) >= 0 ? datum.label : split(replace(datum.label, regexp(' (\\\\S+)$'), '|$1'), '|')"}}
                      }
                    },
                    {
                      "width": 422.5,
                      "height": 174,
                      "title": {"text": "Durchschnittliche Antwortzeit", "subtitle": "Wöchentlicher Trend", "subtitlePadding": 5, "offset": -31},
                      "data": {"values": [
                        {"day": "Tue", "minutes": 305},
                        {"day": "Wed", "minutes": 110},
                        {"day": "Thu", "minutes": 91},
                        {"day": "Fri", "minutes": 166},
                        {"day": "Sat", "minutes": 15},
                        {"day": "Sun", "minutes": 13},
                        {"day": "Mon", "minutes": 5}
                      ]},
                      "encoding": {
                        "x": {"field": "day", "type": "ordinal", "sort": null, "scale": {"type": "point", "range": [49, 410], "padding": 0}, "axis": {"offset": -26.3, "labelPadding": 5}},
                        "y": {"field": "minutes", "type": "quantitative", "scale": {"domain": [0, 320], "range": [147.7, 44]}, "axis": {"offset": -44, "labelPadding": 0, "values": [0, 80, 160, 240, 320], "labelFontSize": 6,
                          "labelExpr": "datum.value == 0 ? '0m' : floor(datum.value / 60) + 'h' + (datum.value % 60 ? ' ' + datum.value % 60 + 'm' : '')"}}
                      },
                      "layer": [
                        {
                          "mark": {"type": "area", "interpolate": "monotone", "color": {"x1": 1, "y1": 0, "x2": 1, "y2": 1, "gradient": "linear", "stops": [{"offset": 0, "color": "#e4ecfb"}, {"offset": 1, "color": "#ffffff"}]}}
                        },
                        {
                          "mark": {"type": "line", "interpolate": "monotone", "color": "#3f66bd", "strokeWidth": 1.4}
                        },
                        {
                          "mark": {"type": "point", "filled": true, "opacity": 1, "size": 20, "color": "#3567d6"}
                        }
                      ]
                    }
                  ]
                },
                {
                  "width": 858,
                  "height": 26,
                  "title": {"text": "Zufriedenheitstrend", "subtitle": "Kundenzufriedenheit über Zeit", "subtitlePadding": 2, "offset": -29},
                  "resolve": {"scale": {"x": "independent", "y": "independent"}},
                  "layer": [
                    {
                      "data": {"values": [{"part": "badge"}]},
                      "mark": {"type": "rect", "color": "#d3f5e4", "cornerRadius": 5},
                      "encoding": {
                        "x": {"datum": 1, "type": "quantitative", "scale": {"domain": [1, 2], "range": [780, 849]}, "axis": null}, "x2": {"datum": 2},
                        "y": {"datum": 1, "type": "quantitative", "scale": {"domain": [1, 2], "range": [15.5, 26]}, "axis": null}, "y2": {"datum": 2}
                      }
                    },
                    {
                      "data": {"values": [{"t": "85% DIESEN MONAT"}]},
                      "mark": {"type": "text", "fontSize": 5.6, "fontWeight": 600, "color": "#1f7a55"},
                      "encoding": {
                        "text": {"field": "t"},
                        "x": {"datum": 0, "type": "quantitative", "scale": {"domain": [0, 1], "range": [814.5, 815.5]}, "axis": null},
                        "y": {"datum": 0, "type": "quantitative", "scale": {"domain": [0, 1], "range": [21, 22]}, "axis": null}
                      }
                    }
                  ]
                }
              ]
            },
            {"data": {"values": []}, "mark": "rect", "width": 10, "height": 12, "view": {"fill": "#f3f3f4", "stroke": null, "cornerRadius": 0}},
            {
              "width": 4,
              "height": 396,
              "view": {"fill": null, "stroke": null, "cornerRadius": 0},
              "data": {"values": [{"part": "scrollbar"}]},
              "mark": {"type": "rect", "color": "#c4c4c4"},
              "encoding": {
                "x": {"datum": 1, "type": "quantitative", "scale": {"domain": [1, 2], "range": [0, 4]}, "axis": null}, "x2": {"datum": 2},
                "y": {"datum": 1, "type": "quantitative", "scale": {"domain": [1, 2], "range": [0, 396]}, "axis": null}, "y2": {"datum": 2}
              }
            }
          ]
        }
      ]
    }
  ]
}
